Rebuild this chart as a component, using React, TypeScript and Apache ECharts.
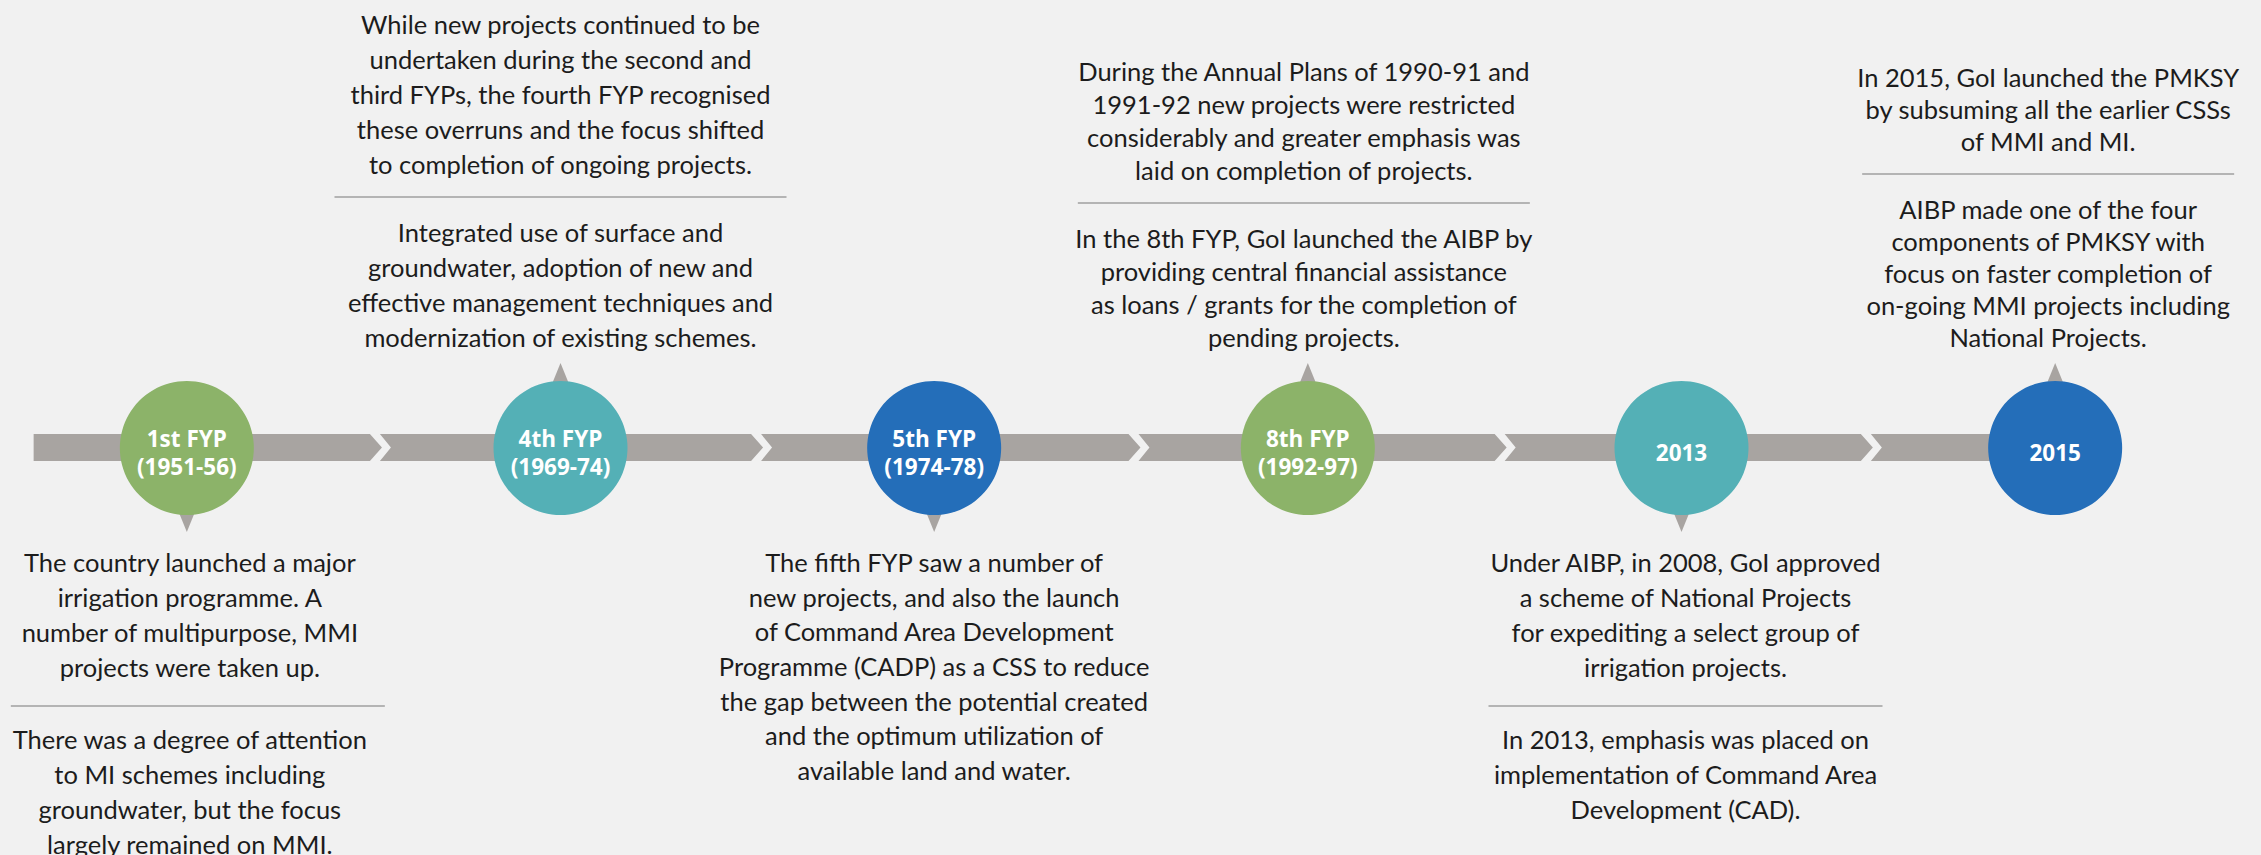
import React, { useEffect, useRef } from 'react';
import * as echarts from 'echarts';

// ---------- data ----------
const milestones = ['1st FYP\n(1951-56)', '4th FYP\n(1969-74)', '5th FYP\n(1974-78)', '8th FYP\n(1992-97)', '2013', '2015'];
const pointerSide = ['down', 'up', 'down', 'up', 'down', 'up'];
const segmentBounds = [-0.41, 0.49, 1.51, 2.52, 3.5, 4.48, 5];

const notesAbove: Record<number, string[]> = {
  1: [
    'While new projects continued to be\nundertaken during the second and\nthird FYPs, the fourth FYP recognised\nthese overruns and the focus shifted\nto completion of ongoing projects.',
    'Integrated use of surface and\ngroundwater, adoption of new and\neffective management techniques and\nmodernization of existing schemes.',
  ],
  3: [
    'During the Annual Plans of 1990-91 and\n1991-92 new projects were restricted\nconsiderably and greater emphasis was\nlaid on completion of projects.',
    'In the 8th FYP, GoI launched the AIBP by\nproviding central financial assistance\nas loans / grants for the completion of\npending projects.',
  ],
  5: [
    'In 2015, GoI launched the PMKSY\nby subsuming all the earlier CSSs\nof MMI and MI.',
    'AIBP made one of the four\ncomponents of PMKSY with\nfocus on faster completion of\non-going MMI projects including\nNational Projects.',
  ],
};

const notesBelow: Record<number, string[]> = {
  0: [
    'The country launched a major\nirrigation programme. A\nnumber of multipurpose, MMI\nprojects were taken up.',
    'There was a degree of attention\nto MI schemes including\ngroundwater, but the focus\nlargely remained on MMI.',
  ],
  2: [
    'The fifth FYP saw a number of\nnew projects, and also the launch\nof Command Area Development\nProgramme (CADP) as a CSS to reduce\nthe gap between the potential created\nand the optimum utilization of\navailable land and water.',
  ],
  4: [
    'Under AIBP, in 2008, GoI approved\na scheme of National Projects\nfor expediting a select group of\nirrigation projects.',
    'In 2013, emphasis was placed on\nimplementation of Command Area\nDevelopment (CAD).',
  ],
};

// ---------- styles / layout ----------
const circleColors = ['#8cb369', '#54b0b6', '#246eb9', '#8cb369', '#54b0b6', '#246eb9'];
const BG = '#f1f1f1';
const BAR_COLOR = '#a8a4a1';
const TEXT_COLOR = '#1c1c1c';
const DIV_COLOR = '#b4b4b4';
const BODY_FONT = '25.5px Lato';
const CIRCLE_Y = 448;
const BAR_TOP = 434;
const BAR_BOTTOM = 461;

const blockLayout: Record<number, { lh: number; dx: number; divHalf: number; divDx: number }> = {
  0: { lh: 35, dx: 3, divHalf: 187, divDx: 11 },
  1: { lh: 35, dx: 0, divHalf: 226, divDx: 0 },
  2: { lh: 34.7, dx: 0, divHalf: 0, divDx: 0 },
  3: { lh: 33, dx: -4, divHalf: 226, divDx: -4 },
  4: { lh: 35, dx: 4, divHalf: 197, divDx: 4 },
  5: { lh: 32, dx: -7, divHalf: 186, divDx: -7 },
};

type TextItem = { value: number[]; text: string; dx: number; lh: number };
type DivItem = { value: number[]; half: number; dx: number };

function buildBlocks() {
  const texts: TextItem[] = [];
  const divs: DivItem[] = [];
  const nl = (s: string) => s.split('\n').length;
  Object.keys(notesAbove).forEach((k) => {
    const i = Number(k);
    const L = blockLayout[i];
    const [p1, p2] = notesAbove[i];
    const p2Top = 337 + L.lh / 2 - nl(p2) * L.lh;
    const divY = p2Top + L.lh / 2 - 35;
    const p1Top = divY - 33 + L.lh / 2 - nl(p1) * L.lh;
    texts.push({ value: [i, p1Top], text: p1, dx: L.dx, lh: L.lh });
    texts.push({ value: [i, p2Top], text: p2, dx: L.dx, lh: L.lh });
    divs.push({ value: [i, divY], half: L.divHalf, dx: L.divDx });
  });
  Object.keys(notesBelow).forEach((k) => {
    const i = Number(k);
    const L = blockLayout[i];
    const paras = notesBelow[i];
    const p1Top = 562 - L.lh / 2;
    texts.push({ value: [i, p1Top], text: paras[0], dx: L.dx, lh: L.lh });
    if (paras[1]) {
      const divY = p1Top + nl(paras[0]) * L.lh - L.lh / 2 + 39;
      const p2Top = divY + 33 - L.lh / 2;
      texts.push({ value: [i, p2Top], text: paras[1], dx: L.dx, lh: L.lh });
      divs.push({ value: [i, divY], half: L.divHalf, dx: L.divDx });
    }
  });
  return { texts, divs };
}

export default function App() {
  const ref = useRef<HTMLDivElement>(null);
  useEffect(() => {
    document.body.style.margin = '0';
    document.body.style.background = BG;
    const chart = echarts.init(ref.current!, null, { renderer: 'svg' });
    const { texts, divs } = buildBlocks();
    const segments = segmentBounds.slice(0, -1).map((s, k) => [s, segmentBounds[k + 1], k]);

    chart.setOption({
      animation: false,
      backgroundColor: BG,
      grid: { left: 0, right: 19, top: 0, bottom: 0 },
      xAxis: { type: 'value', min: -0.5, max: 5.5, show: false },
      yAxis: { type: 'value', min: 0, max: 855, inverse: true, show: false },
      tooltip: { show: false },
      series: [
        {
          type: 'custom',
          name: 'timeline',
          z: 1,
          data: segments,
          renderItem: (params: any, api: any) => {
            const k = api.value(2);
            const xs0 = api.coord([api.value(0), 0])[0];
            const xe = api.coord([api.value(1), 0])[0];
            const y0 = api.coord([0, BAR_TOP])[1];
            const y1 = api.coord([0, BAR_BOTTOM])[1];
            const ym = (y0 + y1) / 2;
            const isFirst = k === 0;
            const isLast = k === segments.length - 1;
            const xs = isFirst ? xs0 : xs0 + 10;
            const pts: number[][] = [];
            pts.push([xs, y0]);
            pts.push([xe, y0]);
            if (!isLast) pts.push([xe + 12, ym]);
            pts.push([xe, y1]);
            pts.push([xs, y1]);
            if (!isFirst) pts.push([xs + 11, ym]);
            return {
              type: 'polygon',
              shape: { points: pts },
              style: { fill: BAR_COLOR },
            };
          },
        },
        {
          type: 'scatter',
          name: 'pointers',
          z: 2,
          symbol: 'triangle',
          symbolSize: [26, 32],
          itemStyle: { color: BAR_COLOR, opacity: 1 },
          silent: true,
          data: milestones.map((m, i) => ({
            value: [i, pointerSide[i] === 'down' ? 516 : 379],
            symbolRotate: pointerSide[i] === 'down' ? 180 : 0,
          })),
        },
        {
          type: 'scatter',
          name: 'milestones',
          z: 3,
          symbolSize: 134,
          silent: true,
          itemStyle: { opacity: 1 },
          data: milestones.map((m, i) => ({
            name: m,
            value: [i, CIRCLE_Y],
            itemStyle: { color: circleColors[i], opacity: 1 },
          })),
          label: {
            show: true,
            position: 'inside',
            formatter: '{b}',
            color: '#ffffff',
            fontFamily: 'Open Sans',
            fontWeight: 'bold',
            fontSize: 22.5,
            lineHeight: 28,
            offset: [0, 4],
          },
        },
        {
          type: 'custom',
          name: 'dividers',
          z: 1,
          data: divs.map((d) => d.value),
          renderItem: (params: any, api: any) => {
            const d = divs[params.dataIndex];
            const p = api.coord([api.value(0), api.value(1)]);
            const cx = p[0] + d.dx;
            return {
              type: 'line',
              shape: { x1: cx - d.half, y1: p[1], x2: cx + d.half, y2: p[1] },
              style: { stroke: DIV_COLOR, lineWidth: 2 },
            };
          },
        },
        {
          type: 'custom',
          name: 'notes',
          z: 4,
          data: texts.map((t) => t.value),
          renderItem: (params: any, api: any) => {
            const t = texts[params.dataIndex];
            const p = api.coord([api.value(0), api.value(1)]);
            return {
              type: 'text',
              x: p[0] + t.dx,
              y: p[1],
              style: {
                text: t.text,
                font: BODY_FONT,
                lineHeight: t.lh,
                fill: TEXT_COLOR,
                align: 'center',
                verticalAlign: 'top',
              },
            };
          },
        },
      ],
    });
    return () => chart.dispose();
  }, []);
  return <div ref={ref} style={{ position: 'absolute', left: 0, top: 0, width: 2261, height: 855 }} />;
}
